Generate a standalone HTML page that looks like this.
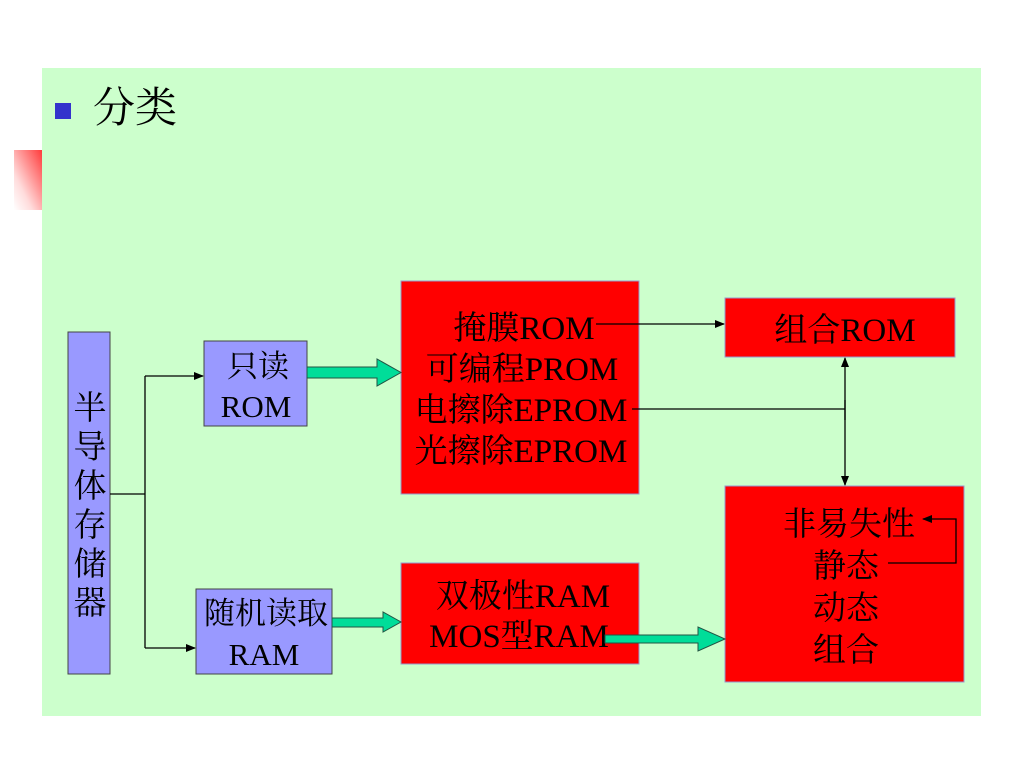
<!DOCTYPE html>
<html><head><meta charset="utf-8"><style>
html,body{margin:0;padding:0;background:#fff;}
svg{display:block}
text{font-family:"Liberation Serif","Noto Serif CJK SC","Noto Sans CJK SC",serif;font-size:33px;fill:#000;}
</style></head><body>
<svg width="1024" height="768" viewBox="0 0 1024 768" xmlns="http://www.w3.org/2000/svg">
<defs>
<linearGradient id="rg" x1="1" y1="0" x2="0" y2="1">
<stop offset="0" stop-color="#ff3333"/><stop offset="0.7" stop-color="#ffdddd"/><stop offset="1" stop-color="#ffffff"/>
</linearGradient>
<marker id="ah" markerWidth="10" markerHeight="8" refX="9" refY="4" orient="auto" markerUnits="userSpaceOnUse">
<path d="M0,0 L10,4 L0,8 z" fill="#000"/></marker>
</defs>
<rect x="14" y="150" width="30" height="60" fill="url(#rg)"/>
<rect x="42" y="68" width="939" height="648" fill="#ccffcc"/>
<rect x="55" y="103" width="16" height="16" fill="#3333cc"/>
<text x="93" y="122" style="font-size:42px">分类</text>

<rect x="68" y="332" width="42" height="342" fill="#9999ff" stroke="#444" stroke-width="1"/>
<g style="font-size:31px" text-anchor="middle">
<text x="90" y="419">半</text><text x="90" y="458">导</text><text x="90" y="497">体</text>
<text x="90" y="536">存</text><text x="90" y="575">储</text><text x="90" y="614">器</text>
</g>
<rect x="204" y="341" width="103" height="85" fill="#9999ff" stroke="#444" stroke-width="1"/>
<text x="258" y="377" text-anchor="middle" style="font-size:31px">只读</text>
<text x="256" y="417" text-anchor="middle" style="font-size:31px">ROM</text>
<rect x="196" y="589" width="136" height="85" fill="#9999ff" stroke="#444" stroke-width="1"/>
<text x="266" y="624" text-anchor="middle" style="font-size:31px">随机读取</text>
<text x="264" y="665" text-anchor="middle" style="font-size:31px">RAM</text>

<rect x="401" y="281" width="238" height="213" fill="#ff0000" stroke="#9999cc" stroke-width="1"/>
<g text-anchor="middle">
<text x="524" y="339">掩膜ROM</text>
<text x="522" y="380">可编程PROM</text>
<text x="521" y="421">电擦除EPROM</text>
<text x="521" y="462">光擦除EPROM</text>
</g>
<rect x="401" y="563" width="238" height="101" fill="#ff0000" stroke="#9999cc" stroke-width="1"/>
<g text-anchor="middle">
<text x="523" y="607">双极性RAM</text>
<text x="519" y="647">MOS型RAM</text>
</g>
<rect x="725" y="298" width="230" height="59" fill="#ff0000" stroke="#9999cc" stroke-width="1"/>
<text x="845" y="341" text-anchor="middle">组合ROM</text>
<rect x="725" y="486" width="239" height="196" fill="#ff0000" stroke="#9999cc" stroke-width="1"/>
<g text-anchor="middle">
<text x="849" y="535">非易失性</text>
<text x="846" y="577">静态</text>
<text x="846" y="619">动态</text>
<text x="846" y="661">组合</text>
</g>

<g stroke="#000" stroke-width="1.3" fill="none">
<path d="M110,494 H145"/>
<path d="M145,376 V648"/>
<path d="M145,376 H203" marker-end="url(#ah)"/>
<path d="M145,648 H195" marker-end="url(#ah)"/>
<path d="M596,324 H724" marker-end="url(#ah)"/>
<path d="M632,409 H845"/>
<path d="M845,420 V358" marker-end="url(#ah)"/>
<path d="M845,400 V485" marker-end="url(#ah)"/>
<path d="M888,563 H956 V519 H923" marker-end="url(#ah)"/>
</g>

<g fill="#00dd99" stroke="#225544" stroke-width="1">
<path d="M307,367 H377 V359 L401,372.5 L377,386 V378 H307 Z"/>
<path d="M332,618 H383 V612 L401,622 L383,632 V627 H332 Z"/>
<path d="M605,635 H698 V627 L725,639 L698,651 V643 H605 Z"/>
</g>
</svg>
</body></html>
